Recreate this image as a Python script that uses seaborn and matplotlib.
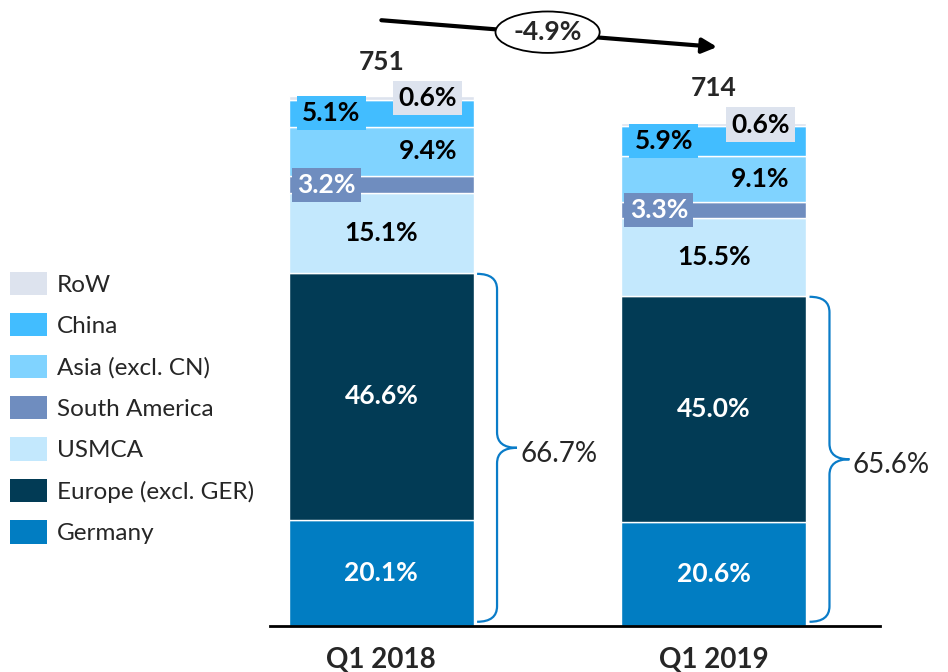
import numpy as np
import seaborn as sns
import matplotlib.pyplot as plt
from matplotlib.path import Path
from matplotlib.patches import PathPatch, Patch

quarters = ['Q1 2018', 'Q1 2019']
totals = [751, 714]
growth = '-4.9%'

# share of total (%) per region, bottom to top
regions = ['Germany', 'Europe (excl. GER)', 'USMCA', 'South America',
           'Asia (excl. CN)', 'China', 'RoW']
germany = [20.1, 20.6]
europe = [46.6, 45.0]
usmca = [15.1, 15.5]
south_america = [3.2, 3.3]
asia = [9.4, 9.1]
china = [5.1, 5.9]
rest_of_world = [0.6, 0.6]
core_share = ['66.7%', '65.6%']

shares = [germany, europe, usmca, south_america, asia, china, rest_of_world]
colors = ['#017DC2', '#023B55', '#C3E8FD', '#6F8DBF', '#80D3FF', '#42BDFF', '#DDE3EE']
# (text colour, x offset from bar centre, boxed label)
label_style = [
    ('white', 0.0, False),
    ('white', 0.0, False),
    ('black', 0.0, False),
    ('white', -0.165, True),
    ('black', 0.14, False),
    ('black', -0.15, True),
    ('black', 0.14, True),
]

sns.set_style('white')
plt.rcParams['font.family'] = ['Lato', 'DejaVu Sans']

fig = plt.figure(figsize=(9.48, 6.72), dpi=100)
ax = fig.add_axes([270 / 948, 46 / 672, 610 / 948, 626 / 672])

bar_w = 0.556
bottom = np.zeros(len(quarters))
for name, share, color, (tc, dx, boxed) in zip(regions, shares, colors, label_style):
    vals = np.array(share) / 100 * np.array(totals)
    sns.barplot(x=quarters, y=vals, bottom=bottom, color=color, saturation=1,
                width=bar_w, edgecolor='white', linewidth=1, ax=ax)
    for i, (v, s) in enumerate(zip(vals, share)):
        kw = dict(ha='center', va='center', fontsize=19, fontweight='bold', color=tc)
        if boxed:
            kw['bbox'] = dict(boxstyle='square,pad=0.2', fc=color, ec='none')
        ax.text(i + dx, bottom[i] + v / 2, f'{s:.1f}%', **kw)
    bottom += vals

# totals above bars
for i, t in enumerate(totals):
    ax.annotate(str(t), (i, bottom[i]), xytext=(0, 25), textcoords='offset points',
                ha='center', va='center', fontsize=19, fontweight='bold')


def brace(ax, x0, y0, y1, w, r, **kw):
    xm = x0 + w / 2
    ym = (y0 + y1) / 2
    verts = [(x0, y0), (xm, y0), (xm, y0 + r),
             (xm, ym - r), (xm, ym), (x0 + w, ym),
             (xm, ym), (xm, ym + r),
             (xm, y1 - r), (xm, y1), (x0, y1)]
    codes = [Path.MOVETO, Path.CURVE3, Path.CURVE3,
             Path.LINETO, Path.CURVE3, Path.CURVE3,
             Path.CURVE3, Path.CURVE3,
             Path.LINETO, Path.CURVE3, Path.CURVE3]
    ax.add_patch(PathPatch(Path(verts, codes), fill=False, clip_on=False, **kw))


core = (np.array(germany) + np.array(europe)) / 100 * np.array(totals)
for i, c in enumerate(core):
    x0 = i + bar_w / 2 + 0.01
    brace(ax, x0, 6, c - 1, 0.12, 22, ec='#0A7CC8', lw=1.6)
    ax.text(x0 + 0.13, c / 2 - 6, core_share[i], ha='left', va='center', fontsize=20)

# growth arrow
ax.annotate('', xy=(1.01, 822), xytext=(0.0, 860),
            arrowprops=dict(arrowstyle='-|>', lw=3, color='black', mutation_scale=22,
                            shrinkA=0, shrinkB=0), annotation_clip=False)
ax.text(0.5, 843, growth, ha='center', va='center', fontsize=19, fontweight='bold',
        bbox=dict(boxstyle='ellipse,pad=0.1', fc='white', ec='black', lw=1.3))

ax.set_xlim(-0.335, 1.5)
ax.set_ylim(0, 888.7)
ax.set_yticks([])
ax.set_ylabel('')
ax.tick_params(axis='x', length=0, pad=15, labelsize=20)
for lab in ax.get_xticklabels():
    lab.set_fontweight('bold')
for side in ['top', 'right', 'left']:
    ax.spines[side].set_visible(False)
ax.spines['bottom'].set_color('black')
ax.spines['bottom'].set_linewidth(2)

handles = [Patch(fc=c, ec='none') for c in colors[::-1]]
fig.legend(handles, regions[::-1], loc='center left', bbox_to_anchor=(10 / 948, 0.393),
           frameon=False, fontsize=17.5, handlelength=1.52, handleheight=1.1,
           labelspacing=0.72, handletextpad=0.42, borderpad=0, borderaxespad=0)

fig.savefig('out.png', dpi=100)
